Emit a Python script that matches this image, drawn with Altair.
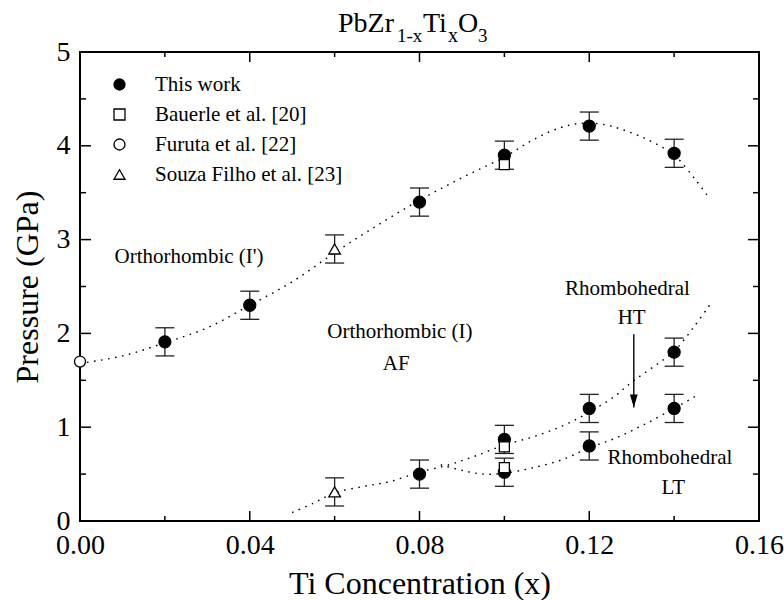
import altair as alt
import pandas as pd

# ---------------- data ----------------
series = ["This work", "Bauerle et al. [20]", "Furuta et al. [22]", "Souza Filho et al. [23]"]
shapes = ["circle", "square", "circle", "triangle-up"]
fills = ["black", "white", "white", "white"]

this_x = [0.02, 0.04, 0.08, 0.10, 0.12, 0.14, 0.08, 0.10, 0.12, 0.14, 0.10, 0.12, 0.14]
this_y = [1.91, 2.30, 3.40, 3.90, 4.21, 3.92, 0.50, 0.87, 1.20, 1.80, 0.52, 0.80, 1.20]
bauerle_x = [0.10, 0.10, 0.10]
bauerle_y = [3.80, 0.79, 0.57]
furuta_x = [0.00]
furuta_y = [1.70]
souza_x = [0.06, 0.06]
souza_y = [2.90, 0.31]
err = 0.15

# dotted guide curves
upper_x = [0.000, 0.010, 0.020, 0.030, 0.040, 0.050, 0.060, 0.070, 0.080, 0.090,
           0.100, 0.107, 0.113, 0.118, 0.123, 0.128, 0.134, 0.140, 0.145, 0.148]
upper_y = [1.68, 1.76, 1.90, 2.06, 2.30, 2.55, 2.86, 3.15, 3.42, 3.66,
           3.88, 4.07, 4.19, 4.24, 4.23, 4.17, 4.06, 3.90, 3.64, 3.46]
ht_x = [0.050, 0.055, 0.060, 0.067, 0.073, 0.080, 0.087, 0.093, 0.100, 0.107,
        0.114, 0.120, 0.126, 0.130, 0.135, 0.140, 0.1445, 0.1485]
ht_y = [0.09, 0.19, 0.30, 0.37, 0.42, 0.52, 0.60, 0.69, 0.81, 0.90,
        1.02, 1.16, 1.33, 1.48, 1.64, 1.81, 2.06, 2.31]
lt_x = [0.085, 0.090, 0.095, 0.100, 0.107, 0.114, 0.120, 0.126, 0.133, 0.140, 0.145]
lt_y = [0.60, 0.54, 0.50, 0.51, 0.57, 0.66, 0.78, 0.88, 1.03, 1.20, 1.33]

# axis ticks
x_major = [0.0, 0.04, 0.08, 0.12, 0.16]
x_minor = [0.02, 0.06, 0.10, 0.14]
y_major = [0, 1, 2, 3, 4, 5]
y_minor = [0.5, 1.5, 2.5, 3.5, 4.5]

# annotations
ann_text = ["Orthorhombic (I')", "Orthorhombic (I)", "AF", "Rhombohedral", "HT", "Rhombohedral", "LT"]
ann_x = [0.0257, 0.0754, 0.0745, 0.129, 0.130, 0.139, 0.1398]
ann_y = [2.81, 2.01, 1.67, 2.47, 2.16, 0.67, 0.35]
arrow_x = [0.1305]
arrow_top = [1.99]
arrow_tip = [1.21]

title_parts = ["PbZr", "1-x", "Ti", "x", "O", "3"]

# ---------------- tables ----------------
FONT = "Liberation Serif"
W, H = 679, 469

eb = pd.DataFrame({"x": this_x + souza_x, "y": this_y + souza_y})
eb["lo"] = eb["y"] - err
eb["hi"] = eb["y"] + err
caps = pd.DataFrame({"x": list(eb["x"]) * 2, "y": list(eb["lo"]) + list(eb["hi"])})

curves = pd.concat([
    pd.DataFrame({"x": upper_x, "y": upper_y, "curve": "upper"}),
    pd.DataFrame({"x": ht_x, "y": ht_y, "curve": "ht"}),
    pd.DataFrame({"x": lt_x, "y": lt_y, "curve": "lt"}),
])
ann = pd.DataFrame({"x": ann_x, "y": ann_y, "text": ann_text})
arrow = pd.DataFrame({"x": arrow_x, "y": arrow_top, "y2": arrow_tip})

xs = alt.Scale(domain=[0, 0.16], nice=False, zero=False)
ys = alt.Scale(domain=[0, 5], nice=False, zero=False)
common_axis = dict(ticks=False, domain=False, grid=False, labelPadding=10, labelFlush=False,
                   labelFont=FONT, labelFontSize=28, labelColor="black",
                   titleFont=FONT, titleFontSize=32, titleFontWeight="normal",
                   titleColor="black")
xaxis = alt.Axis(values=x_major, format=".2f", title="Ti Concentration (x)",
                 titlePadding=9, **common_axis)
yaxis = alt.Axis(values=y_major, format="d", title="Pressure (GPa)",
                 titlePadding=12, **common_axis)
X = alt.X("x:Q", scale=xs, axis=xaxis)
Y = alt.Y("y:Q", scale=ys, axis=yaxis)


def rules(df, **enc):
    return alt.Chart(df).mark_rule(color="black", strokeWidth=1.5).encode(**enc)


def xticks(vals, length):
    df = pd.DataFrame({"x": vals})
    return (rules(df, x=X, y=alt.value(H), y2=alt.value(H - length))
            + rules(df, x=X, y=alt.value(0), y2=alt.value(length)))


def yticks(vals, length):
    df = pd.DataFrame({"y": vals})
    return (rules(df, y=Y, x=alt.value(0), x2=alt.value(length))
            + rules(df, y=Y, x=alt.value(W), x2=alt.value(W - length)))


ticks = xticks(x_major, 10) + xticks(x_minor, 5) + yticks(y_major, 11) + yticks(y_minor, 6)

one = alt.Data(values=[{}])
frame = alt.Chart(one).mark_rect(fill=None, stroke="black", strokeWidth=2).encode(
    x=alt.value(0), x2=alt.value(W), y=alt.value(0), y2=alt.value(H))

curve_layer = alt.Chart(curves).mark_line(
    interpolate="catmull-rom", color="black", strokeWidth=1.4, strokeDash=[1.6, 5.5]
).encode(x=X, y=Y, detail="curve:N")

eb_rule = alt.Chart(eb).mark_rule(color="#222222", strokeWidth=1.3).encode(
    x=X, y=alt.Y("lo:Q", scale=ys, axis=yaxis), y2="hi:Q")
eb_caps = alt.Chart(caps).mark_tick(orient="horizontal", size=19, thickness=1.3,
                                     color="#222222", opacity=1).encode(x=X, y=Y)

leg = alt.Legend(title=None, orient="none", legendX=29, legendY=22, labelFont=FONT,
                 labelFontSize=21, labelColor="black", labelLimit=400, symbolSize=121,
                 symbolStrokeColor="black", symbolStrokeWidth=1.3, rowPadding=8,
                 labelOffset=25, padding=0, symbolOpacity=1)
shape_enc = alt.Shape("source:N", scale=alt.Scale(domain=series, range=shapes), legend=leg)
fill_enc = alt.Fill("source:N", scale=alt.Scale(domain=series, range=fills), legend=leg)
stroke_enc = alt.Stroke("source:N", scale=alt.Scale(domain=series, range=["black"] * 4),
                        legend=leg)

point_sets = [(this_x, this_y, 144), (bauerle_x, bauerle_y, 100),
              (furuta_x, furuta_y, 121), (souza_x, souza_y, 135)]
point_layers = []
for name, (px, py, sz) in zip(series, point_sets):
    df = pd.DataFrame({"x": px, "y": py, "source": name})
    point_layers.append(alt.Chart(df).mark_point(
        opacity=1, strokeWidth=1.3, size=sz).encode(
        x=X, y=Y, shape=shape_enc, fill=fill_enc, stroke=stroke_enc))

ann_layer = alt.Chart(ann).mark_text(font=FONT, fontSize=21, color="black",
                                     align="center", baseline="middle").encode(
    x=X, y=Y, text="text:N")

arrow_line = alt.Chart(arrow).mark_rule(color="black", strokeWidth=1.4).encode(
    x=X, y=Y, y2=alt.Y2("y2:Q"))
arrow_head = alt.Chart(arrow).mark_point(
    shape="M-0.6,-1L0.6,-1L0,1Z", size=169, filled=True, color="black", opacity=1,
    yOffset=-6.5).encode(x=X, y=alt.Y("y2:Q", scale=ys, axis=yaxis))

title_pos = [(258, -20, 28), (317, -10, 19), (343, -20, 28), (368, -10, 20), (378, -20, 28), (398, -10, 19)]
title_layers = []
for txt, (px, py, fs) in zip(title_parts, title_pos):
    title_layers.append(alt.Chart(one).mark_text(font=FONT, fontSize=fs, color="black",
                                                  align="left", baseline="alphabetic").encode(
        x=alt.value(px), y=alt.value(py), text=alt.value(txt)))

chart = alt.layer(frame, ticks, curve_layer, eb_rule, eb_caps, *point_layers, ann_layer,
                  arrow_line, arrow_head, *title_layers).properties(
    width=W, height=H,
    padding={"left": 80, "top": 52, "right": 25, "bottom": 79},
    autosize=alt.AutoSizeParams(type="none"),
    background="white",
).configure_view(stroke=None)

chart.save("out.html", embed_options={"renderer": "svg", "actions": False})
